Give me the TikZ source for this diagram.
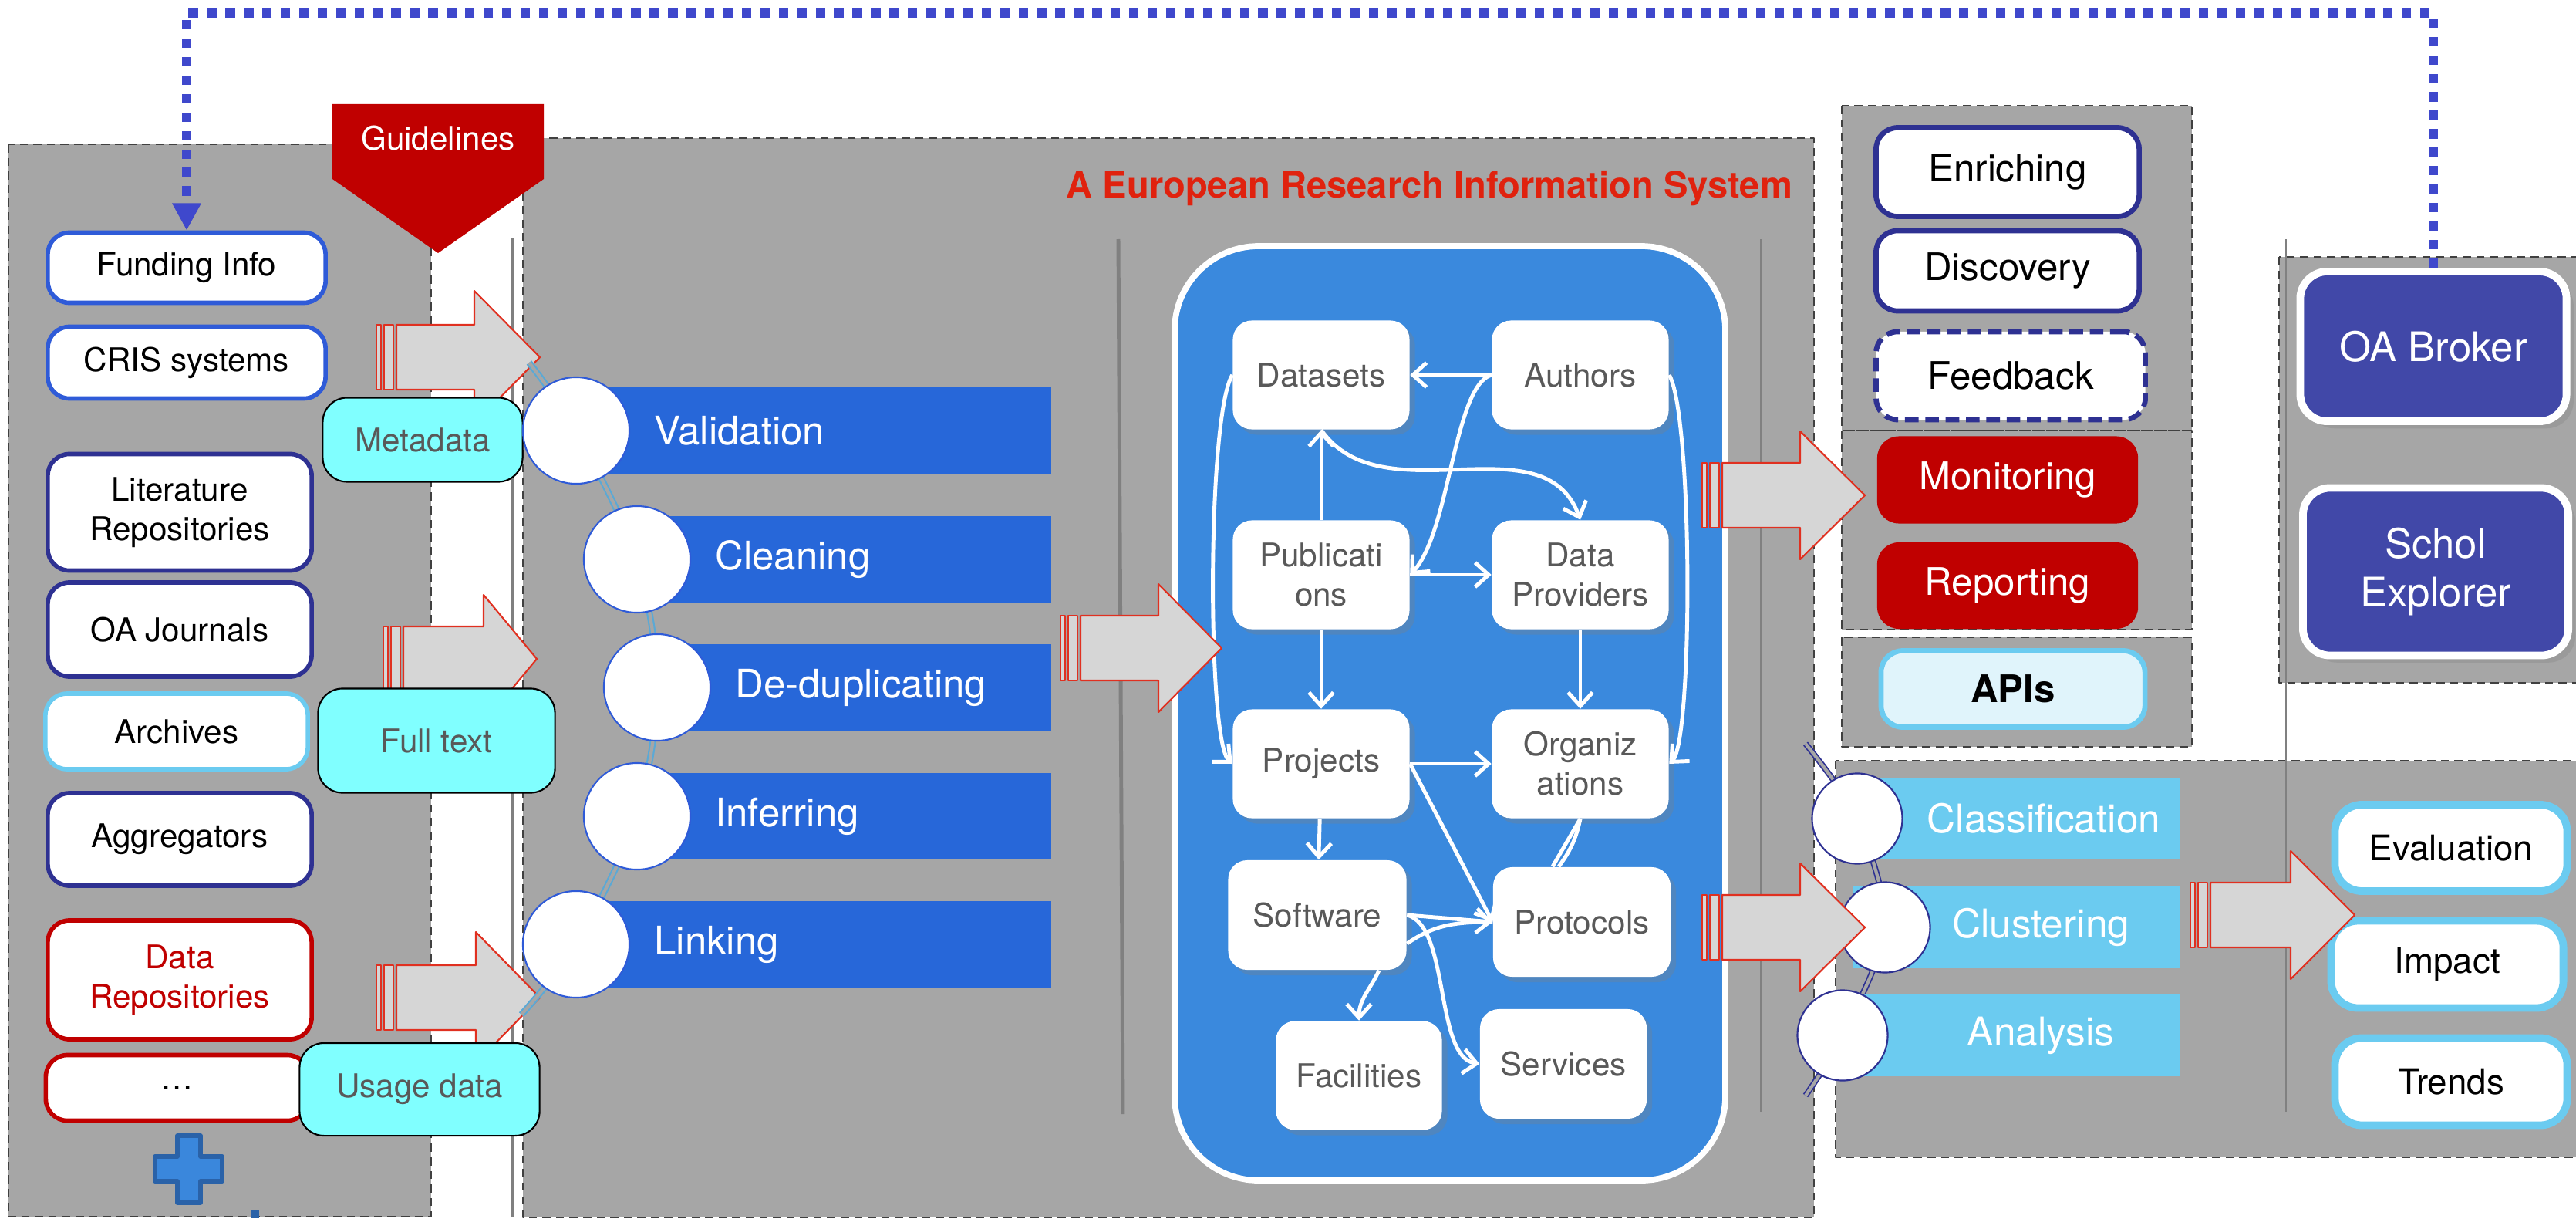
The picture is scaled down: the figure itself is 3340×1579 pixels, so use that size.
\documentclass[tikz,border=0pt]{standalone}
\usepackage{fontspec}
\setmainfont{TeX Gyre Heros}
\usetikzlibrary{arrows.meta,shadows}
\definecolor{panelgray}{HTML}{A6A6A6}
\definecolor{linegray}{HTML}{808080}
\definecolor{arrowgray}{HTML}{D6D6D6}
\definecolor{arrowred}{HTML}{E03020}
\definecolor{barblue}{HTML}{2767D9}
\definecolor{boxblue}{HTML}{2F5BD8}
\definecolor{navy}{HTML}{2E3192}
\definecolor{skyblue}{HTML}{6BCBF0}
\definecolor{darkred}{HTML}{C00000}
\definecolor{titlered}{HTML}{E0220E}
\definecolor{cyanbox}{HTML}{80FFFF}
\definecolor{indigo}{HTML}{4148A8}
\definecolor{linkblue}{HTML}{3F48CC}
\definecolor{hubblue}{HTML}{3A89DD}
\definecolor{textgray}{HTML}{595959}
\definecolor{curveblue}{HTML}{5AA9D6}
\definecolor{apiblue}{HTML}{E0F4FB}
\definecolor{plusblue}{HTML}{3A87DC}
\definecolor{plusedge}{HTML}{2A62A8}
% big striped arrow: tail x, mid y, head x, tip x, head half height
\newcommand{\feedarrow}[5]{%
  \draw[blockarrow] (#1,#2-42) rectangle ++(6,84);
  \draw[blockarrow] (#1+10,#2-42) rectangle ++(12,84);
  \draw[blockarrow] (#1+26,#2-42) -- (#3,#2-42) -- (#3,#2-#5) -- (#4,#2) -- (#3,#2+#5) -- (#3,#2+42) -- (#1+26,#2+42) -- cycle;
}
\begin{document}
\begin{tikzpicture}[x=0.01cm, y=-0.01cm, line join=round,
  >={Straight Barb[length=5pt,width=9pt]},
  panel/.style={fill=panelgray, draw=black!75, densely dashed, line width=0.4pt},
  rule/.style={draw=linegray, line width=1.4pt},
  blockarrow/.style={fill=arrowgray, draw=arrowred, line width=0.6pt},
  srcbox/.style={fill=white, line width=1.6pt, rounded corners=8pt, inner sep=0pt, align=center, font=\fontsize{12}{14.5}\selectfont},
  tagbox/.style={fill=cyanbox, draw=black, line width=0.6pt, rounded corners=9pt, text=textgray, font=\fontsize{12}{14.5}\selectfont},
  stagebar/.style={fill=barblue},
  stagedot/.style={circle, fill=white, draw=boxblue, line width=0.6pt, minimum size=1.38cm, inner sep=0pt},
  stagetext/.style={text=white, anchor=west, font=\fontsize{14.5}{16}\selectfont},
  stagecurve/.style={draw=curveblue, double=panelgray, double distance=1.2pt, line width=0.6pt},
  anabar/.style={fill=skyblue},
  anadot/.style={circle, fill=white, draw=navy, line width=0.6pt, minimum size=1.17cm, inner sep=0pt},
  anatext/.style={text=white, font=\fontsize{14.6}{17}\selectfont},
  anacurve/.style={draw=navy, double=panelgray, double distance=1.2pt, line width=0.5pt},
  entity/.style={fill=white, rounded corners=7pt, minimum width=2.29cm, minimum height=1.41cm, inner sep=0pt, align=center, text=textgray, font=\fontsize{12}{14.5}\selectfont, drop shadow={opacity=0.3, shadow xshift=2pt, shadow yshift=-2pt}},
  flow/.style={draw=white, line width=1.4pt},
  toolbox/.style={fill=white, draw=navy, line width=1.9pt, rounded corners=8pt, minimum width=3.41cm, inner sep=0pt, font=\fontsize{14}{16}\selectfont},
  redbox/.style={fill=darkred, rounded corners=8pt, minimum width=3.38cm, inner sep=0pt, text=white, font=\fontsize{14}{16}\selectfont},
  servbox/.style={fill=indigo, draw=white, line width=2.8pt, rounded corners=10pt, inner sep=0pt, align=center, text=white, font=\fontsize{15}{18}\selectfont, drop shadow={opacity=0.3}},
  outbox/.style={fill=white, draw=skyblue, line width=2.8pt, rounded corners=10pt, minimum width=3.01cm, minimum height=1.12cm, inner sep=0pt, font=\fontsize{13}{15}\selectfont},
  linkline/.style={draw=linkblue, line width=3.2pt, dash pattern=on 3.5pt off 3.3pt}]
\useasboundingbox (0,0) rectangle (3340,1579);

% panels
\draw[panel] (11,187) rectangle (559,1577);
\draw[rule] (664,309) -- (664,1577);
\draw[panel] (678,179) rectangle (2352,1578);
\draw[rule] (1450,310) -- (1456,1444);
\draw[rule, line width=0.8pt] (2283,310) -- (2283,1441);
\draw[panel] (2388,137) rectangle (2842,558);
\draw[panel] (2388,558) rectangle (2842,816);
\draw[panel] (2388,826) rectangle (2842,968);
\draw[panel] (2955,333) rectangle (3345,885);
\draw[panel] (2380,986) rectangle (3345,1500);
\draw[rule, line width=0.8pt] (2964,310) -- (2964,1441);

\node[font=\bfseries\fontsize{13.4}{15}\selectfont, text=titlered, anchor=base west, inner sep=0pt] (title) at (1382,256) {A European Research Information System};

% guidelines
\fill[darkred] (431,135) -- (705,135) -- (705,232) -- (568,328) -- (431,232) -- cycle;
\node[text=white, font=\fontsize{12}{14}\selectfont] (guide) at (568,179) {Guidelines};

% sources
\feedarrow{488}{463}{615}{700}{86}
\feedarrow{497}{854}{627}{696}{83}
\feedarrow{488}{1293}{617}{700}{85}
\node[srcbox, draw=boxblue, minimum width=3.6cm, minimum height=0.91cm] (fund) at (242,347) {Funding Info};
\node[srcbox, draw=boxblue, minimum width=3.6cm, minimum height=0.93cm] (cris) at (242,470) {CRIS systems};
\node[srcbox, draw=navy, minimum width=3.42cm, minimum height=1.51cm] (litrepo) at (233,664) {Literature\\Repositories};
\node[srcbox, draw=navy, minimum width=3.42cm, minimum height=1.22cm] (oajour) at (233,816) {OA Journals};
\node[srcbox, draw=skyblue, minimum width=3.4cm, minimum height=0.98cm] (archive) at (229,948) {Archives};
\node[srcbox, draw=navy, minimum width=3.42cm, minimum height=1.2cm] (aggreg) at (233,1088) {Aggregators};
\node[srcbox, draw=darkred, text=darkred, minimum width=3.42cm, minimum height=1.54cm] (datarepo) at (233,1270) {Data\\Repositories};
\node[srcbox, draw=darkred, minimum width=3.41cm, minimum height=0.85cm] (more) at (230,1410) {\ldots};
\node[tagbox, minimum width=2.59cm, minimum height=1.09cm] (meta) at (548,570) {Metadata};
\node[tagbox, minimum width=3.07cm, minimum height=1.35cm] (fulltext) at (566,960) {Full text};
\node[tagbox, minimum width=3.11cm, minimum height=1.2cm] (usage) at (544,1412) {Usage data};
\draw[fill=plusblue, draw=plusedge, line width=1.5pt] (230,1472) -- (260,1472) -- (260,1499) -- (288,1499) -- (288,1531) -- (260,1531) -- (260,1559) -- (230,1559) -- (230,1531) -- (201,1531) -- (201,1499) -- (230,1499) -- cycle;
\draw[plusedge, line width=3pt] (331,1568) -- (331,1579);

% processing stages
\foreach \cx/\cy [count=\i] in {747/558, 826/725, 852/891, 826/1058, 747/1224}
  \coordinate (p\i) at (\cx,\cy);
\draw[stagecurve] plot[smooth] coordinates {(686,470) (p1) (p2) (p3) (p4) (p5) (676,1315)};
\foreach \cx/\cy/\lbl [count=\i] in {747/558/Validation, 826/725/Cleaning, 852/891/De-duplicating, 826/1058/Inferring, 747/1224/Linking} {
  \fill[stagebar] (\cx,\cy-56) rectangle (1363,\cy+56);
  \node[stagedot] (dot\i) at (p\i) {};
  \node[stagetext] (stage\i) at (\cx+89,\cy) {\lbl};
}

% research graph
\draw[fill=hubblue, draw=white, line width=2.2pt, rounded corners=31pt] (1523,319) rectangle (2237,1530);
\node[entity] (data) at (1713,486) {Datasets};
\node[entity] (auth) at (2049,486) {Authors};
\node[entity] (pub) at (1713,745) {Publicati\\ons};
\node[entity] (dp) at (2049,745) {Data\\Providers};
\node[entity] (proj) at (1713,990) {Projects};
\node[entity] (org) at (2049,990) {Organiz\\ations};
\node[entity, minimum width=2.31cm, minimum height=1.42cm] (soft) at (1708,1186) {Software};
\node[entity, minimum width=2.3cm, minimum height=1.42cm] (prot) at (2051,1195) {Protocols};
\node[entity, minimum width=2.15cm] (fac) at (1762,1394) {Facilities};
\node[entity, minimum width=2.16cm, minimum height=1.42cm] (serv) at (2027,1379) {Services};

\draw[flow, ->] (auth) -- (data);
\draw[flow, ->] (auth.west) .. controls (1885,500) and (1880,690) .. (pub.east);
\draw[flow, ->] (pub) -- (data);
\draw[flow, ->] (data.south) to[out=-55, in=110] (dp.north);
\draw[flow, ->] (pub.east) -- (dp.west);
\draw[flow, ->] (pub) -- (proj);
\draw[flow, ->] (dp) -- (org);
\draw[flow, ->] (data.west) .. controls (1565,540) and (1565,960) .. (proj.west);
\draw[flow, ->] (auth.east) .. controls (2195,540) and (2195,960) .. (org.east);
\draw[flow, ->] (proj) -- (org);
\draw[flow, ->] (proj.east) -- (prot.west);
\draw[flow, ->] (proj) -- (soft);
\draw[flow, ->] (soft.east) -- (prot.west);
\draw[flow] ([yshift=-0.37cm]soft.east) to[out=35, in=180] (prot.west);
\draw[flow, ->] (soft.east) .. controls (1880,1200) and (1860,1370) .. (serv.west);
\draw[flow, ->] ([xshift=0.8cm]soft.south) to[out=-115, in=90] (fac.north);
\draw[flow] (org.south) -- ([xshift=-0.38cm]prot.north);
\draw[flow] (org.south) to[bend left=12] ([xshift=-0.3cm]prot.north);
\feedarrow{1375}{840}{1502}{1584}{83}

% services
\node[toolbox, minimum height=1.15cm] (enrich) at (2603,223) {Enriching};
\node[toolbox, minimum height=1.04cm] (discov) at (2603,351) {Discovery};
\node[toolbox, dash pattern=on 5pt off 2.5pt, minimum width=3.49cm, minimum height=1.14cm] (feedb) at (2607,487) {Feedback};
\node[redbox, minimum height=1.13cm] (monit) at (2603,622) {Monitoring};
\node[redbox, minimum height=1.12cm] (report) at (2603,759) {Reporting};
\node[fill=apiblue, draw=skyblue, line width=1.9pt, rounded corners=8pt, minimum width=3.42cm, minimum height=0.99cm, inner sep=0pt, font=\bfseries\fontsize{14}{16}\selectfont] (apis) at (2610,893) {APIs};
\node[servbox, minimum width=3.45cm, minimum height=1.94cm] (oab) at (3155,449) {OA Broker};
\node[servbox, minimum width=3.44cm, minimum height=2.17cm] (schol) at (3158,741) {Schol\\Explorer};
\feedarrow{2207}{642}{2334}{2418}{83}

% analysis
\foreach \cx/\cy [count=\i] in {2408/1061, 2444/1202, 2389/1342}
  \coordinate (q\i) at (\cx,\cy);
\draw[anacurve] plot[smooth] coordinates {(2341,964) (q1) (q2) (q3) (2341,1420)};
\foreach \cy/\bx/\tx/\lbl [count=\i] in {1061/2406/2650/Classification, 1202/2403/2646/Clustering, 1342/2389/2646/Analysis} {
  \fill[anabar] (\bx,\cy-53) rectangle (2827,\cy+53);
  \node[anadot] (adot\i) at (q\i) {};
  \node[anatext] (ana\i) at (\tx,\cy) {\lbl};
}
\feedarrow{2207}{1202}{2334}{2418}{83}
\node[outbox] (evalu) at (3178,1099) {Evaluation};
\node[outbox, minimum height=1.13cm] (impact) at (3173,1250) {Impact};
\node[outbox, minimum height=1.13cm] (trends) at (3178,1402) {Trends};
\feedarrow{2840}{1186}{2970}{3053}{83}

% feedback loop
\coordinate (looptop) at (0,17);
\draw[linkline, -{Triangle[length=10pt,width=10pt]}] (oab.north) -- (oab.north |- looptop) -- (fund.north |- looptop) -- (fund.north);
\end{tikzpicture}
\end{document}
